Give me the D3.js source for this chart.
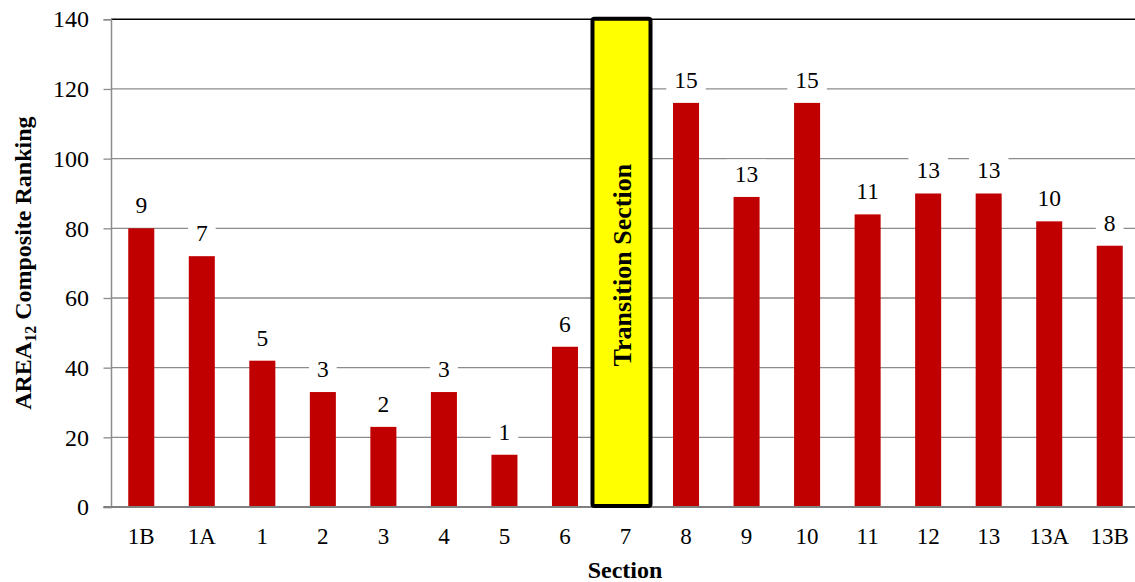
<!DOCTYPE html>
<html>
<head>
<meta charset="utf-8">
<script src="https://cdn.jsdelivr.net/npm/d3@7"></script>
<style>
  html, body { margin: 0; padding: 0; background: #fff; }
  svg text { font-family: "Liberation Serif", "Times New Roman", serif !important; }
</style>
</head>
<body>
<svg id="chart" width="1135" height="582"></svg>
<script>
const categories = ["1B","1A","1","2","3","4","5","6","7","8","9","10","11","12","13","13A","13B"];
const values =     [80, 72, 42, 33, 23, 33, 15, 46, null, 116, 89, 116, 84, 90, 90, 82, 75];
const ranks =      [9, 7, 5, 3, 2, 3, 1, 6, null, 15, 13, 15, 11, 13, 13, 10, 8];
const yTicks = [0, 20, 40, 60, 80, 100, 120, 140];
const transitionCategory = "7";
const transitionLabel = "Transition Section";

(function () {
const svg = d3.select("#chart");
const pLeft = 111, pRight = 1140, pTop = 19.3, pBottom = 507;

const x = d3.scaleBand().domain(categories).range([pLeft, pRight]).padding(0);
const y = d3.scaleLinear().domain([0, 140]).range([pBottom, pTop]);
const step = x.step();
const barW = step * 0.43;

// gridlines
svg.append("g").selectAll("line").data(yTicks.filter(d => d > 0)).join("line")
  .attr("x1", pLeft).attr("x2", 1135)
  .attr("y1", d => y(d)).attr("y2", d => y(d))
  .attr("stroke", d => d === 140 ? "#000" : "#8c8c8c")
  .attr("stroke-width", d => d === 140 ? 1.6 : 1.3);

// y axis
const yAxis = d3.axisLeft(y).tickValues(yTicks).tickSize(7.5).tickPadding(14.5);
const gy = svg.append("g").attr("transform", `translate(${pLeft},0)`).call(yAxis);
gy.attr("font-family", null);
gy.select(".domain").attr("stroke", "#8c8c8c").attr("stroke-width", 1.5);
gy.selectAll(".tick line").attr("stroke", "#8c8c8c").attr("stroke-width", 1.3);
gy.selectAll(".tick text").attr("font-size", 24).attr("fill", "#000");

// bars
const barData = categories.map((c, i) => ({c, v: values[i], r: ranks[i]})).filter(d => d.v !== null);
svg.append("g").selectAll("rect").data(barData).join("rect")
  .attr("x", d => x(d.c) + step / 2 - barW / 2)
  .attr("width", barW)
  .attr("y", d => y(d.v))
  .attr("height", d => y(0) - y(d.v))
  .attr("fill", "#c00000");

// x axis
const xAxis = d3.axisBottom(x).tickSize(0).tickPadding(21);
const gx = svg.append("g").attr("transform", `translate(0,${pBottom})`).call(xAxis);
gx.attr("font-family", null);
gx.select(".domain").attr("stroke", "#808080").attr("stroke-width", 2.2)
  .attr("d", `M${pLeft - 7.5},0H1135`);
gx.selectAll(".tick text").attr("font-size", 23).attr("fill", "#000");

// transition box
const boxW = step - 2.5;
const bx = x(transitionCategory) + step / 2 - boxW / 2 - 4;
svg.append("rect")
  .attr("x", bx).attr("y", y(140) - 0.5)
  .attr("width", boxW).attr("height", y(0) - y(140) - 0.5)
  .attr("rx", 2).attr("ry", 2)
  .attr("fill", "#ffff00").attr("stroke", "#000").attr("stroke-width", 4);
svg.append("text")
  .attr("transform", `translate(${bx + boxW / 2 + 9},${(y(0) + y(140)) / 2 + 2}) rotate(-90)`)
  .attr("text-anchor", "middle")
  .attr("font-size", 26).attr("font-weight", "bold").attr("fill", "#000")
  .text(transitionLabel);

// value labels with white background
const lg = svg.append("g");
barData.forEach(d => {
  const cx = x(d.c) + step / 2;
  const base = y(d.v) - 15;
  const t = lg.append("text").attr("x", cx).attr("y", base)
    .attr("text-anchor", "middle").attr("font-size", 23.5).attr("fill", "#000")
    .text(d.r);
  const w = t.node().getComputedTextLength() + 16;
  lg.insert("rect", "text").attr("x", cx - w / 2).attr("y", base - 7.5 - 15)
    .attr("width", w).attr("height", 30).attr("fill", "#fff");
});
lg.selectAll("text").raise();

// axis titles
const yt = svg.append("text")
  .attr("transform", `translate(31,${(pTop + pBottom) / 2}) rotate(-90)`)
  .attr("text-anchor", "middle").attr("font-size", 24).attr("font-weight", "bold").attr("fill", "#000");
yt.append("tspan").text("AREA");
yt.append("tspan").attr("font-size", 16).attr("dy", 5).text("12");
yt.append("tspan").attr("dy", -5).text(" Composite Ranking");

svg.append("text").attr("x", (pLeft + 1135) / 2 + 2).attr("y", 578)
  .attr("text-anchor", "middle").attr("font-size", 24).attr("font-weight", "bold").attr("fill", "#000")
  .text("Section");
})();
</script>
</body>
</html>
